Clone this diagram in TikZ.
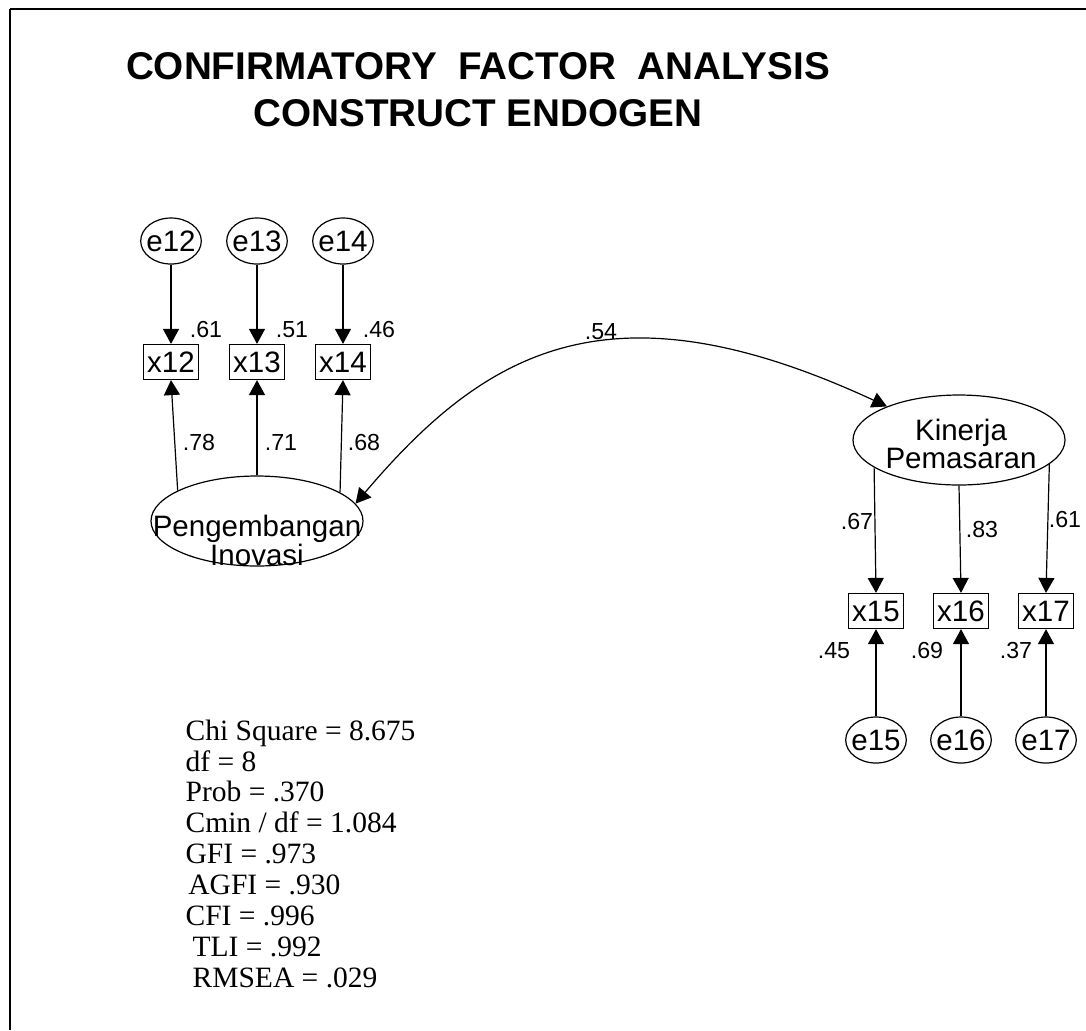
\documentclass[tikz,border=0pt]{standalone}
\usepackage{fontspec}
\setmainfont{Liberation Serif}
\setsansfont{Liberation Sans}
\usetikzlibrary{arrows.meta,shapes.geometric}

\begin{document}
\begin{tikzpicture}[x=0.25mm,y=-0.25mm,font=\sffamily,line width=0.3mm,
  >={Triangle[length=3.75mm,width=4mm]},
  err/.style={draw,ellipse,minimum width=14.5mm,minimum height=11.5mm,
    inner xsep=-0.8mm,inner ysep=0pt,font=\sffamily\fontsize{21}{21}\selectfont},
  obs/.style={draw,rectangle,minimum width=13.75mm,minimum height=8.75mm,
    inner sep=0pt,font=\sffamily\fontsize{21}{21}\selectfont},
  latent/.style={draw,ellipse,minimum width=53mm,minimum height=22.5mm,
    inner sep=0pt},
  lattext/.style={align=center,inner sep=0pt,
    font=\sffamily\fontsize{21}{18}\selectfont},
  est/.style={inner sep=0pt,font=\sffamily\fontsize{16.5}{16.5}\selectfont}]
  \useasboundingbox (0,0) rectangle (1086,1030);
  \draw[line width=0.6mm] (10,9) -- (1086,9);
  \draw[line width=0.4mm] (10,9) -- (10,1030);

  \node[font=\sffamily\bfseries\fontsize{27.5}{33.4}\selectfont,align=center]
    (title) at (478,90) {CONFIRMATORY\ \ FACTOR\ \ ANALYSIS\\CONSTRUCT ENDOGEN};

  % Pengembangan Inovasi
  \node[latent] (peng) at (257,521) {};
  \node[lattext] (pengtxt) at (257,540) {Pengembangan\\Inovasi};
  \node[obs] (x12) at (171,362) {x12};
  \node[obs] (x13) at (257,362) {x13};
  \node[obs] (x14) at (343,362) {x14};
  \node[err] (e12) at (171,241) {e12};
  \node[err] (e13) at (257,241) {e13};
  \node[err] (e14) at (343,241) {e14};

  \draw[->] (e12) -- (x12);
  \draw[->] (e13) -- (x13);
  \draw[->] (e14) -- (x14);
  \draw[->] (peng.159) -- (x12.south);
  \draw[->] (peng.north) -- (x13.south);
  \draw[->] (peng.19) -- (x14.south);

  \node[est] (r12) at (206,330) {.61};
  \node[est] (r13) at (292,330) {.51};
  \node[est] (r14) at (379,330) {.46};
  \node[est] (w12) at (199,443) {.78};
  \node[est] (w13) at (281,443) {.71};
  \node[est] (w14) at (364,443) {.68};

  % Kinerja Pemasaran
  \node[latent] (kin) at (959,440) {};
  \node[lattext] (kintxt) at (961,444) {Kinerja\\Pemasaran};
  \node[obs] (x15) at (876,611) {x15};
  \node[obs] (x16) at (961,611) {x16};
  \node[obs] (x17) at (1046,611) {x17};
  \node[err] (e15) at (876,740) {e15};
  \node[err] (e16) at (961,740) {e16};
  \node[err] (e17) at (1046,740) {e17};

  \draw[->] (kin.198) -- (x15.north);
  \draw[->] (kin.south) -- (x16.north);
  \draw[->] (kin.345) -- (x17.north);
  \draw[->] (e15) -- (x15);
  \draw[->] (e16) -- (x16);
  \draw[->] (e17) -- (x17);

  \node[est] (w15) at (857,522) {.67};
  \node[est] (w16) at (982,530) {.83};
  \node[est] (w17) at (1065,520) {.61};
  \node[est] (r15) at (834,651) {.45};
  \node[est] (r16) at (927,651) {.69};
  \node[est] (r17) at (1016,651) {.37};

  % correlation
  \draw[<->] (peng.10) .. controls (486,350) and (610,278) .. (kin.155);
  \node[est] (cor) at (601,332) {.54};

  \node[anchor=north west,inner sep=0pt,align=left,
    font=\rmfamily\fontsize{21}{22}\selectfont] (fit) at (185,719)
    {Chi Square = 8.675\\df = 8\\Prob = .370\\Cmin / df = 1.084\\GFI = .973\\
     \hspace*{2pt}AGFI = .930\\CFI = .996\\\hspace*{5pt}TLI = .992\\
     \hspace*{5pt}RMSEA = .029};
\end{tikzpicture}
\end{document}
